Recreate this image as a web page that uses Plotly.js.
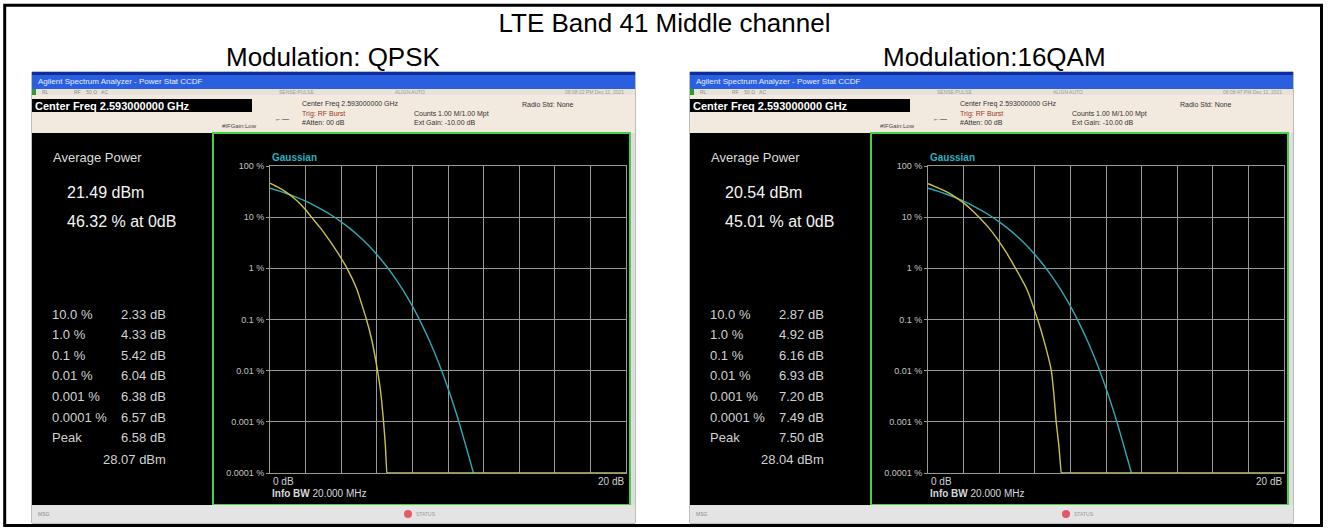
<!DOCTYPE html>
<html><head><meta charset="utf-8">
<script src="https://cdn.plot.ly/plotly-3.0.1.min.js"></script>
<style>html,body{margin:0;padding:0;background:#fff}#chart{width:1329px;height:528px}</style>
</head><body><div id="chart"></div>
<script>
// ---------- data ----------
const gaussDb  = [0, 0.5, 1, 1.5, 2, 2.5, 3, 3.5, 4, 4.5, 5, 5.5, 6, 6.5, 7, 7.5, 8, 8.5, 9, 9.5, 10, 10.5, 11, 11.43];
const gaussPct = [36.8, 32.6, 28.4, 24.3, 20.5, 16.9, 13.6, 10.65, 8.11, 5.97, 4.23, 2.88, 1.87, 1.15, 0.666, 0.362, 0.182, 0.084, 0.0355, 0.0135, 0.00454, 0.00134, 0.00034, 0.0001];
const qpskDb   = [0, 0.5, 1, 1.5, 2, 2.33, 2.83, 3.33, 3.83, 4.33, 4.88, 5.15, 5.42, 5.73, 6.04, 6.21, 6.38, 6.48, 6.57, 6.58, 20];
const qpskPct  = [46.32, 37.7, 29.2, 21.2, 14.0, 10, 6.17, 3.55, 1.95, 1.0, 0.39, 0.2, 0.1, 0.038, 0.01, 0.004, 0.001, 0.00035, 0.0001, 0.0001, 0.0001];
const qam16Db  = [0, 0.5, 1, 1.5, 2, 2.5, 2.87, 3.37, 3.87, 4.37, 4.92, 5.54, 6.16, 6.55, 6.93, 7.07, 7.20, 7.35, 7.49, 7.50, 20];
const qam16Pct = [45.01, 38.3, 31.8, 25.3, 19.0, 13.4, 10, 6.46, 3.85, 2.11, 1.0, 0.4, 0.1, 0.035, 0.01, 0.0035, 0.001, 0.00035, 0.0001, 0.0001, 0.0001];

const yTickVals = [100, 10, 1, 0.1, 0.01, 0.001, 0.0001];
const yTickText = ['100 %', '10 %', '1 %', '0.1 %', '0.01 %', '0.001 %', '0.0001 %'];
const xRange = [0, 20];
const xTickLabels = ['0 dB', '20 dB'];

const mainTitle = 'LTE Band 41 Middle channel';
const modTitles = ['Modulation: QPSK', 'Modulation:16QAM'];
const avgPower  = ['21.49 dBm', '20.54 dBm'];
const atZeroDb  = ['46.32 % at 0dB', '45.01 % at 0dB'];
const statLabels = ['10.0 %', '1.0 %', '0.1 %', '0.01 %', '0.001 %', '0.0001 %', 'Peak'];
const qpskStats  = ['2.33 dB', '4.33 dB', '5.42 dB', '6.04 dB', '6.38 dB', '6.57 dB', '6.58 dB'];
const qam16Stats = ['2.87 dB', '4.92 dB', '6.16 dB', '6.93 dB', '7.20 dB', '7.49 dB', '7.50 dB'];
const peakDbm    = ['28.07 dBm', '28.04 dBm'];
const timeStamps = ['08:08:22 PM Dec 11, 2021', '08:08:47 PM Dec 11, 2021'];
const centerFreq = 'Center Freq 2.593000000 GHz';

// ---------- layout helpers ----------
const W = 1329, H = 528;
const X = p => p / W;
const Y = p => 1 - p / H;
const FONT = 'Liberation Sans, Arial, sans-serif';
const shapes = [];
const annotations = [];
function rect(x0, y0, x1, y1, fill, line, lw) {
  shapes.push({type: 'rect', xref: 'paper', yref: 'paper', layer: 'below',
    x0: X(x0), x1: X(x1), y0: Y(y1), y1: Y(y0),
    fillcolor: fill || 'rgba(0,0,0,0)', line: {color: line || 'rgba(0,0,0,0)', width: lw || 0}});
}
function text(x, y, t, size, color, xa, bold) {
  annotations.push({xref: 'paper', yref: 'paper', x: X(x), y: Y(y), text: bold ? '<b>' + t + '</b>' : t,
    showarrow: false, xanchor: xa || 'left', yanchor: 'middle',
    font: {family: FONT, size: size, color: color}});
}

const origins = [32, 690];
const statSets = [qpskStats, qam16Stats];

origins.forEach((ox, i) => {
  // screenshot frame
  rect(ox, 72, ox + 603, 523, '#d9d9d9', '#7a7a7a', 1);
  rect(ox, 72, ox + 603, 89, '#2a5fe0');
  rect(ox, 72, ox + 603, 75, '#0c2e9c');
  rect(ox, 89, ox + 603, 95, '#e7e3db');
  rect(ox, 89, ox + 4, 95, '#2f9a2f');
  rect(ox, 95, ox + 603, 133, '#f2e9df');
  rect(ox, 99, ox + 220, 112, '#000000');
  rect(ox, 133, ox + 599, 505, '#000000');
  rect(ox + 599, 133, ox + 603, 505, '#dedede');
  rect(ox + 181, 133, ox + 598, 505, null, '#45d045', 2);
  rect(ox, 505, ox + 603, 523, '#e4e4e4');
  shapes.push({type: 'circle', xref: 'paper', yref: 'paper', x0: X(ox + 372), x1: X(ox + 380), y0: Y(518), y1: Y(510),
    fillcolor: '#e05a6a', line: {width: 0}});

  // top bars text
  text(ox + 4, 81, 'Agilent Spectrum Analyzer - Power Stat CCDF', 8, '#e8eeff');
  text(ox + 8, 92, 'RL', 5, '#8a8a8a');
  text(ox + 40, 92, 'RF    50 Ω   AC', 5, '#8a8a8a');
  text(ox + 245, 92, 'SENSE:PULSE', 5, '#9a9a9a');
  text(ox + 361, 92, 'ALIGN AUTO', 5, '#9a9a9a');
  text(ox + 594, 92, timeStamps[i], 5, '#9a9a9a', 'right');
  text(ox + 1, 105.5, centerFreq, 11, '#ffffff', 'left', true);
  text(ox + 268, 104, centerFreq, 7, '#333333');
  text(ox + 268, 114, 'Trig: RF Burst', 7, '#9a3a1a');
  text(ox + 268, 123, '#Atten: 00 dB', 7, '#333333');
  text(ox + 241, 118, '←—', 7, '#222222');
  text(ox + 188, 126, '#IFGain:Low', 6, '#444444');
  text(ox + 380, 114, 'Counts 1.00 M/1.00 Mpt', 7, '#333333');
  text(ox + 380, 123, 'Ext Gain: -10.00 dB', 7, '#333333');
  text(ox + 488, 104, 'Radio Std: None', 7, '#333333');
  text(ox + 4, 514, 'MSG', 5, '#8a8a8a');
  text(ox + 382, 514, 'STATUS', 5, '#999999');

  // left readout panel
  text(ox + 19, 157, 'Average Power', 13, '#dcdcdc');
  text(ox + 33, 193, avgPower[i], 16, '#f4f4f4');
  text(ox + 33, 221, atZeroDb[i], 16, '#f4f4f4');
  statLabels.forEach((lab, k) => {
    const yy = 314 + k * 20.6;
    text(ox + 18, yy, lab, 13, '#d2d2d2');
    text(ox + 136, yy, statSets[i][k], 13, '#d2d2d2', 'right');
  });
  text(ox + 136, 459, peakDbm[i], 13, '#d2d2d2', 'right');

  // plot labels
  text(ox + 238, 157, 'Gaussian', 10, '#2ab0c0', 'left', true);
  text(ox + 239, 481, xTickLabels[0], 10, '#d0d0d0');
  text(ox + 594, 481, xTickLabels[1], 10, '#d0d0d0', 'right');
  text(ox + 238, 493, '<b>Info BW</b> 20.000 MHz', 10, '#d8d8d8');

  // headings
  text(i === 0 ? 333 : 994, 57, modTitles[i], 26, '#000000', 'center');
});

// table border
shapes.push({type: 'rect', xref: 'paper', yref: 'paper', layer: 'above',
  x0: X(4.7), x1: X(1321.5), y0: Y(525.5), y1: Y(5.3), line: {color: '#000000', width: 3}});

const gridCol = '#9a9a94';
function xAxis(ox, anchor) {
  return {domain: [X(ox + 238), X(ox + 594)], range: xRange, dtick: 2, tick0: 0, anchor: anchor,
    showgrid: true, gridcolor: gridCol, gridwidth: 1, zeroline: false, showticklabels: false,
    showline: true, linecolor: gridCol, linewidth: 1, mirror: true, ticks: '', fixedrange: true};
}
function yAxis(anchor) {
  return {type: 'log', domain: [Y(473), Y(166)], range: [-4, 2], anchor: anchor,
    tickmode: 'array', tickvals: yTickVals, ticktext: yTickText,
    tickfont: {family: FONT, size: 9, color: '#c4c4c4'}, ticks: 'outside', ticklen: 3, tickcolor: gridCol,
    showgrid: true, gridcolor: gridCol, gridwidth: 1, zeroline: false,
    showline: true, linecolor: gridCol, linewidth: 1, mirror: true, fixedrange: true};
}

const gaussColor = '#2fa9b3', measColor = '#c9c24a';
const traces = [
  {x: gaussDb, y: gaussPct, xaxis: 'x', yaxis: 'y', mode: 'lines', name: 'Gaussian',
   line: {color: gaussColor, width: 1.4, shape: 'spline'}, hoverinfo: 'skip'},
  {x: qpskDb, y: qpskPct, xaxis: 'x', yaxis: 'y', mode: 'lines', name: 'QPSK',
   line: {color: measColor, width: 1.4, shape: 'spline', smoothing: 0.5}, hoverinfo: 'skip'},
  {x: gaussDb, y: gaussPct, xaxis: 'x2', yaxis: 'y2', mode: 'lines', name: 'Gaussian',
   line: {color: gaussColor, width: 1.4, shape: 'spline'}, hoverinfo: 'skip'},
  {x: qam16Db, y: qam16Pct, xaxis: 'x2', yaxis: 'y2', mode: 'lines', name: '16QAM',
   line: {color: measColor, width: 1.4, shape: 'spline', smoothing: 0.5}, hoverinfo: 'skip'}
];

const layout = {
  width: W, height: H, margin: {l: 0, r: 0, t: 0, b: 0},
  paper_bgcolor: '#ffffff', plot_bgcolor: '#000000', showlegend: false,
  title: {text: mainTitle, x: 0.5, xanchor: 'center', y: Y(23), yanchor: 'middle',
    font: {family: FONT, size: 26, color: '#000000'}},
  xaxis: xAxis(origins[0], 'y'), yaxis: yAxis('x'),
  xaxis2: xAxis(origins[1], 'y2'), yaxis2: yAxis('x2'),
  shapes: shapes, annotations: annotations
};

Plotly.newPlot('chart', traces, layout, {displayModeBar: false, staticPlot: true});
</script>
</body></html>
